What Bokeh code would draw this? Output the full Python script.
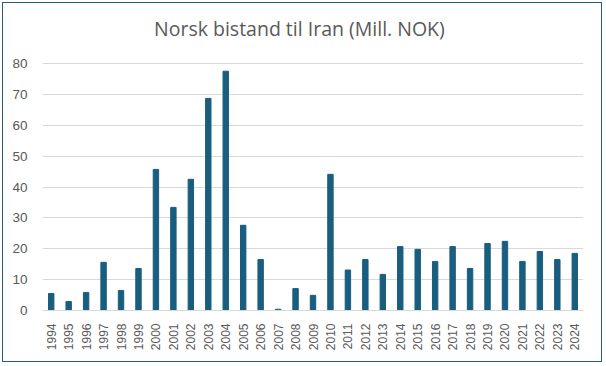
import math
from bokeh.plotting import figure
from bokeh.layouts import column
from bokeh.models import FactorRange, Range1d, ColumnDataSource, FixedTicker, Label
from bokeh.embed import file_html
from bokeh.resources import INLINE

years = [str(y) for y in range(1994, 2025)]
values = [5.5, 2.9, 5.8, 15.6, 6.5, 13.6, 45.7, 33.4, 42.5, 68.7, 77.5, 27.6, 16.5, 0.4,
          7.1, 4.9, 44.1, 13.1, 16.5, 11.7, 20.7, 19.8, 15.9, 20.7, 13.6, 21.7, 22.4,
          15.9, 19.1, 16.5, 18.5]
y_ticks = [0, 10, 20, 30, 40, 50, 60, 70, 80]
title_text = "Norsk bistand til Iran (Mill. NOK)"

source = ColumnDataSource(data=dict(year=years, value=values))

W, H = 595, 355
ML, MR, MT, MB = 39, 15, 4, 48
frame_h = H - MT - MB
px_per_unit = 247 / 80.0
p = figure(
    width=W, height=H,
    x_range=FactorRange(*years, range_padding=0),
    y_range=Range1d(0, frame_h / px_per_unit),
    output_backend="svg", toolbar_location=None,
    min_border_left=ML, min_border_right=MR, min_border_top=MT, min_border_bottom=MB,
)

p.vbar(x="year", top="value", width=0.31, source=source, color="#195e7f")

# title drawn inside the (taller) frame; screen units measured from frame bottom-left
title = Label(x=111.5, y=frame_h - 21, x_units="screen", y_units="screen",
              text=title_text,
              text_font="Open Sans", text_font_size="19.5px", text_color="#595959",
              text_baseline="alphabetic", text_align="left")
p.add_layout(title)

p.outline_line_color = None
p.xgrid.grid_line_color = None
p.ygrid.grid_line_color = "#d9d9d9"
p.ygrid.grid_line_width = 1

p.yaxis.ticker = FixedTicker(ticks=y_ticks)
p.yaxis.axis_line_color = None
p.yaxis.major_tick_line_color = None
p.yaxis.minor_tick_line_color = None
p.yaxis.major_label_text_font = "Liberation Sans"
p.yaxis.major_label_text_font_size = "13.5px"
p.yaxis.major_label_text_color = "#595959"
p.yaxis.major_label_standoff = 9

p.xaxis.axis_line_color = "#d9d9d9"
p.xaxis.major_tick_line_color = None
p.xaxis.minor_tick_line_color = None
p.xaxis.major_label_orientation = math.pi / 2
p.xaxis.major_label_text_font = "Liberation Sans"
p.xaxis.major_label_text_font_size = "12px"
p.xaxis.major_label_text_color = "#595959"
p.xaxis.major_label_standoff = 7

layout = column(p, width=600, height=360,
                styles={"border": "1.5px solid #245d76", "margin": "2px 0 0 2px",
                        "box-sizing": "border-box"})

open("out.html", "w").write(file_html(layout, INLINE))
